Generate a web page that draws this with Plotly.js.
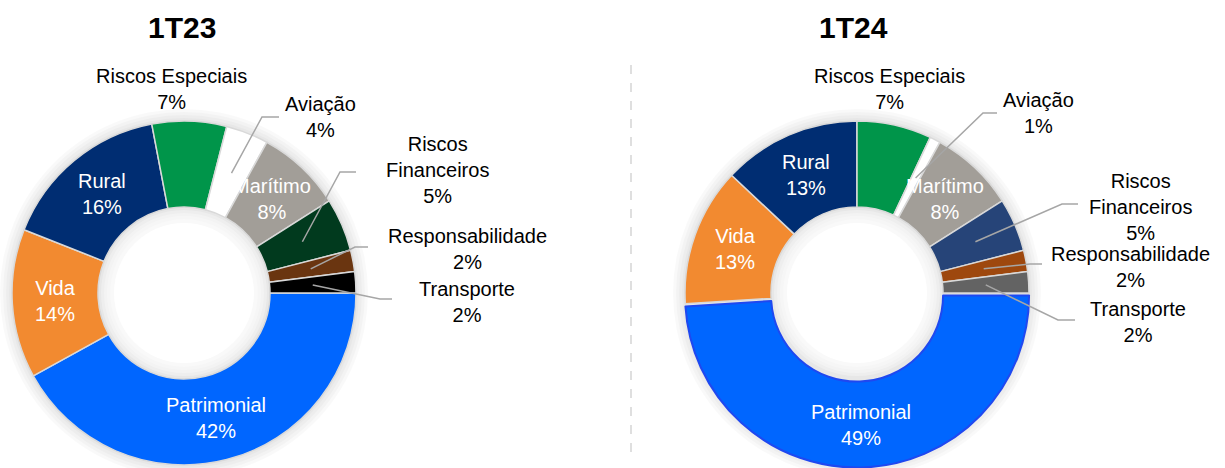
<!DOCTYPE html>
<html><head><meta charset="utf-8">
<script src="https://cdn.plot.ly/plotly-3.0.1.min.js"></script>
<style>html,body{margin:0;padding:0;background:#fff}#chart{width:1225px;height:468px}</style>
</head><body><div id="chart"></div>
<script>
// ---- data ----
const categories = ['Patrimonial','Vida','Rural','Riscos Especiais','Aviação','Marítimo','Riscos Financeiros','Responsabilidade','Transporte'];
const displayNames = ['Patrimonial','Vida','Rural','Riscos Especiais','Aviação','Marítimo','Riscos<br>Financeiros','Responsabilidade','Transporte'];
const values1T23 = [42,14,16,7,4,8,5,2,2];
const values1T24 = [49,13,13,7,1,8,5,2,2];
const colors1T23 = ['#0066FF','#F28A30','#002D72','#00954A','#FFFFFF','#A29E98','#013A1E','#6A3510','#000000'];
const colors1T24 = ['#0066FF','#F28A30','#002D72','#00954A','#FFFFFF','#A29E98','#264478','#9E480E','#636363'];
const insideLabels = ['Patrimonial','Vida','Rural','Marítimo'];
const titles = ['1T23','1T24'];

// ---- layout constants (pixels) ----
const W = 1225, H = 468;
const FONT = 'Arial, "Liberation Sans", sans-serif';
const LABEL_SIZE = 20;
const charts = [
  {title: titles[0], values: values1T23, colors: colors1T23, cx: 184, cy: 293, r: 172, hole: 0.5, titleX: 182,
   pull: categories.map(() => 0),
   lineColors: categories.map(() => '#D9D9D9'), lineWidths: categories.map(() => 1.5),
   outside: {
     'Riscos Especiais': {tx: 171, ty: 89},
     'Aviação': {tx: 320, ty: 117, ex: 262, ey: 117, hx: 279},
     'Riscos Financeiros': {tx: 437, ty: 170, ex: 340, ey: 172, hx: 356},
     'Responsabilidade': {tx: 467, ty: 249, ex: 355, ey: 247, hx: 368},
     'Transporte': {tx: 467, ty: 302, ex: 380, ey: 299, hx: 392}
   }},
  {title: titles[1], values: values1T24, colors: colors1T24, cx: 857, cy: 293, r: 172, hole: 0.5, titleX: 853,
   pull: categories.map(c => c === 'Patrimonial' ? 0.015 : 0),
   lineColors: categories.map(c => c === 'Patrimonial' ? '#1F48F0' : '#D9D9D9'),
   lineWidths: categories.map(c => c === 'Patrimonial' ? 2 : 1.5),
   outside: {
     'Riscos Especiais': {tx: 889, ty: 89},
     'Aviação': {tx: 1038, ty: 113, ex: 983, ey: 113, hx: 997},
     'Riscos Financeiros': {tx: 1140, ty: 207, ex: 1062, ey: 204, hx: 1078},
     'Responsabilidade': {tx: 1130, ty: 267, ex: 1030, ey: 264, hx: 1042},
     'Transporte': {tx: 1138, ty: 322, ex: 1058, ey: 320, hx: 1075}
   }}
];

const px = x => x / W;
const py = y => 1 - y / H;
const data = [], annotations = [], shapes = [];

// divider
shapes.push({type: 'line', xref: 'paper', yref: 'paper', x0: px(631), x1: px(631), y0: py(65), y1: py(455),
  line: {color: '#BFBFBF', width: 1, dash: 'dash'}, layer: 'below'});

charts.forEach(ch => {
  const maxPull = Math.max(...ch.pull);
  const half = ch.r * (1 + maxPull);
  data.push({
    type: 'pie', labels: categories, values: ch.values, sort: false, direction: 'clockwise', rotation: 90,
    hole: ch.hole, pull: ch.pull, textinfo: 'none', hoverinfo: 'none', showlegend: false,
    marker: {colors: ch.colors, line: {color: ch.lineColors, width: ch.lineWidths}},
    domain: {x: [px(ch.cx - half), px(ch.cx + half)], y: [py(ch.cy + half), py(ch.cy - half)]}
  });

  // soft shadow
  const hr = ch.r * ch.hole;
  [12, 9, 6, 3].forEach(d => shapes.push({type: 'circle', xref: 'paper', yref: 'paper', layer: 'below',
    x0: px(ch.cx - ch.r - d), x1: px(ch.cx + ch.r + d), y0: py(ch.cy + ch.r + d), y1: py(ch.cy - ch.r - d),
    fillcolor: 'rgba(0,0,0,0.025)', line: {width: 0}}));
  [3, 6, 9, 12, 16].forEach(d => shapes.push({type: 'circle', xref: 'paper', yref: 'paper', layer: 'below',
    x0: px(ch.cx - hr + d), x1: px(ch.cx + hr - d), y0: py(ch.cy + hr - d), y1: py(ch.cy - hr + d),
    fillcolor: d === 16 ? '#FFFFFF' : 'rgba(255,255,255,0.3)', line: {width: 0}}));

  // title
  annotations.push({xref: 'paper', yref: 'paper', x: px(ch.titleX), y: py(27), xanchor: 'center', yanchor: 'middle',
    showarrow: false, text: '<b>' + ch.title + '</b>', font: {family: FONT, size: 30, color: '#000'}});

  // labels
  const total = ch.values.reduce((a, b) => a + b, 0);
  let cum = 0;
  const midR = ch.r * (1 + ch.hole) / 2;
  categories.forEach((cat, i) => {
    const v = ch.values[i];
    const mid = (90 + 360 * (cum + v / 2) / total) * Math.PI / 180;
    cum += v;
    const off = ch.pull[i] * ch.r;
    const sx = ch.cx + (midR + off) * Math.sin(mid);
    const sy = ch.cy - (midR + off) * Math.cos(mid);
    const txt = displayNames[i] + '<br>' + v + '%';
    if (insideLabels.includes(cat)) {
      annotations.push({xref: 'paper', yref: 'paper', x: px(sx), y: py(sy), xanchor: 'center', yanchor: 'middle',
        showarrow: false, text: txt, font: {family: FONT, size: LABEL_SIZE, color: '#FFFFFF'}});
    } else {
      const o = ch.outside[cat];
      annotations.push({xref: 'paper', yref: 'paper', x: px(o.tx), y: py(o.ty), xanchor: 'center', yanchor: 'middle',
        showarrow: false, text: txt, font: {family: FONT, size: LABEL_SIZE, color: '#000000'}});
      if (o.ex !== undefined) {
        shapes.push({type: 'path', xref: 'paper', yref: 'paper', layer: 'above',
          path: `M ${px(sx)} ${py(sy)} L ${px(o.ex)} ${py(o.ey)} L ${px(o.hx)} ${py(o.ey)}`,
          line: {color: '#A6A6A6', width: 1.5}});
      }
    }
  });
});

Plotly.newPlot('chart', data, {
  width: W, height: H, margin: {l: 0, r: 0, t: 0, b: 0},
  paper_bgcolor: '#FFFFFF', plot_bgcolor: '#FFFFFF',
  annotations: annotations, shapes: shapes, showlegend: false
}, {displayModeBar: false, staticPlot: true});
</script>
</body></html>
